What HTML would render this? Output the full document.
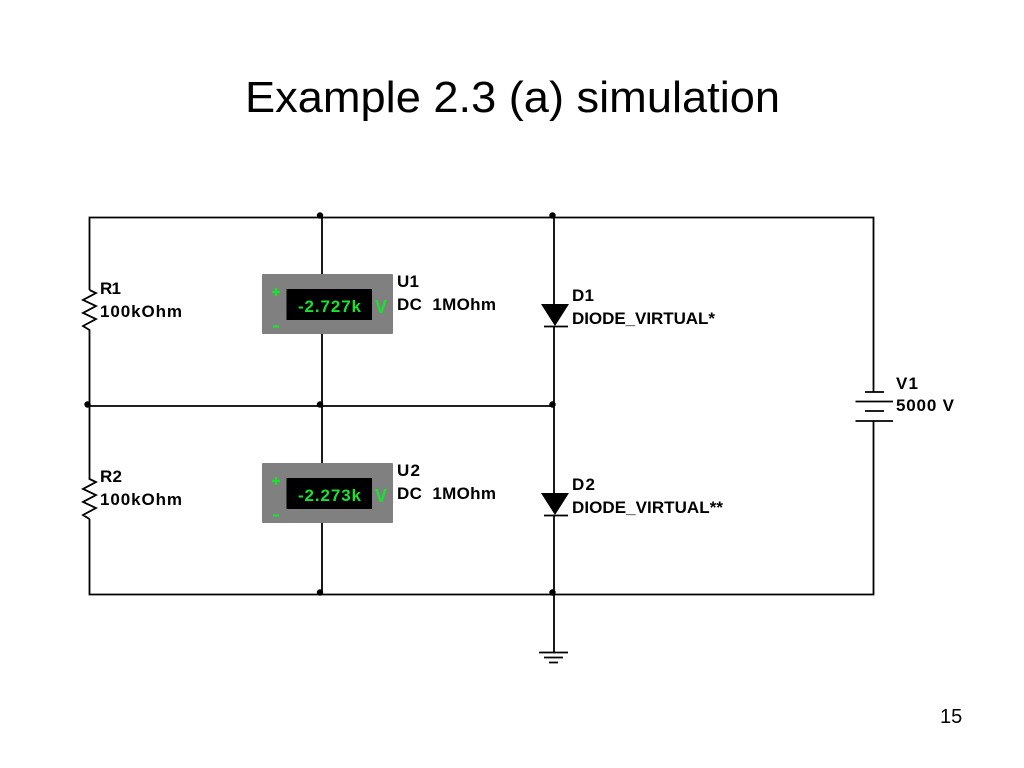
<!DOCTYPE html>
<html><head><meta charset="utf-8"><style>
html,body{margin:0;padding:0;background:#fff}
svg{display:block}
text{font-family:"Liberation Sans",sans-serif}
.l{font-size:17px;font-weight:bold;fill:#000}
.g{fill:#17e32f;font-weight:bold}
</style></head><body>
<svg width="1024" height="768" viewBox="0 0 1024 768" xmlns="http://www.w3.org/2000/svg">
<text x="245" y="112" font-size="44" fill="#000" textLength="535" lengthAdjust="spacingAndGlyphs">Example 2.3 (a) simulation</text>
<text x="940" y="723" font-size="20" fill="#000">15</text>
<g fill="none" stroke="#000" stroke-width="1.8">
<path d="M89.500 290V217.500H873.500V392M873.500 421V594.500H89.500V519"/>
<path d="M89.500 290L96 293L83 300L96 306L83 313L96 319L83 326L89.500 330V479L96 482L83 489L96 495L83 502L96 508L83 515L89.500 519"/>
<path d="M88 406H554"/>
<path d="M322 217.500V274M322 334V463M322 523V594.500"/>
<path d="M554 217.500V304M554 326V493M554 515V652"/>
<path d="M544 326.500H568M544 515.500H568"/>
<path d="M865 392H884M855.500 401.500H893M865 411H884M855.500 421H893"/>
<path d="M539 652.500H568M544 657.500H563M549 662.500H558"/>
</g>
<path d="M541 304H569L555 326ZM541 493H569L555 515Z" fill="#000"/>
<g fill="#000">
<circle cx="320" cy="215.500" r="3.200"/><circle cx="552.500" cy="215.500" r="3.200"/>
<circle cx="87.500" cy="404.500" r="3.200"/><circle cx="320" cy="404.500" r="3.200"/><circle cx="552.500" cy="404.500" r="3.200"/>
<circle cx="320" cy="592.500" r="3.200"/><circle cx="552.500" cy="592.500" r="3.200"/>
</g>
<rect x="262" y="274" width="131" height="60" rx="1" fill="#808080"/>
<rect x="286.500" y="289" width="85.500" height="31" fill="#000"/>
<rect x="262" y="463" width="131" height="60" rx="1" fill="#808080"/>
<rect x="286.500" y="478" width="85.500" height="31" fill="#000"/>
<path d="M272 292H280M276 288V296M273 326.500H279" stroke="#17e32f" stroke-width="2.200" fill="none"/>
<path d="M272 481H280M276 477V485M273 515.500H279" stroke="#17e32f" stroke-width="2.200" fill="none"/>
<text class="g" x="298" y="312" font-size="17" textLength="63">-2.727k</text>
<text class="g" x="375" y="313" font-size="18">V</text>
<text class="g" x="298" y="501" font-size="17" textLength="63">-2.273k</text>
<text class="g" x="375" y="502" font-size="18">V</text>
<text class="l" x="100" y="294" textLength="21">R1</text>
<text class="l" x="100" y="317" textLength="82">100kOhm</text>
<text class="l" x="100" y="482" textLength="22">R2</text>
<text class="l" x="100" y="505" textLength="82">100kOhm</text>
<text class="l" x="397" y="287" textLength="22">U1</text>
<text class="l" x="397" y="310" textLength="99" xml:space="preserve">DC  1MOhm</text>
<text class="l" x="397" y="476" textLength="23">U2</text>
<text class="l" x="397" y="499" textLength="99" xml:space="preserve">DC  1MOhm</text>
<text class="l" x="572" y="301" textLength="22">D1</text>
<text class="l" x="572" y="324" textLength="143">DIODE_VIRTUAL*</text>
<text class="l" x="572" y="490" textLength="23">D2</text>
<text class="l" x="572" y="513" textLength="151">DIODE_VIRTUAL**</text>
<text class="l" x="896" y="389" textLength="22">V1</text>
<text class="l" x="896" y="411" textLength="58" xml:space="preserve">5000 V</text>
</svg>
</body></html>
